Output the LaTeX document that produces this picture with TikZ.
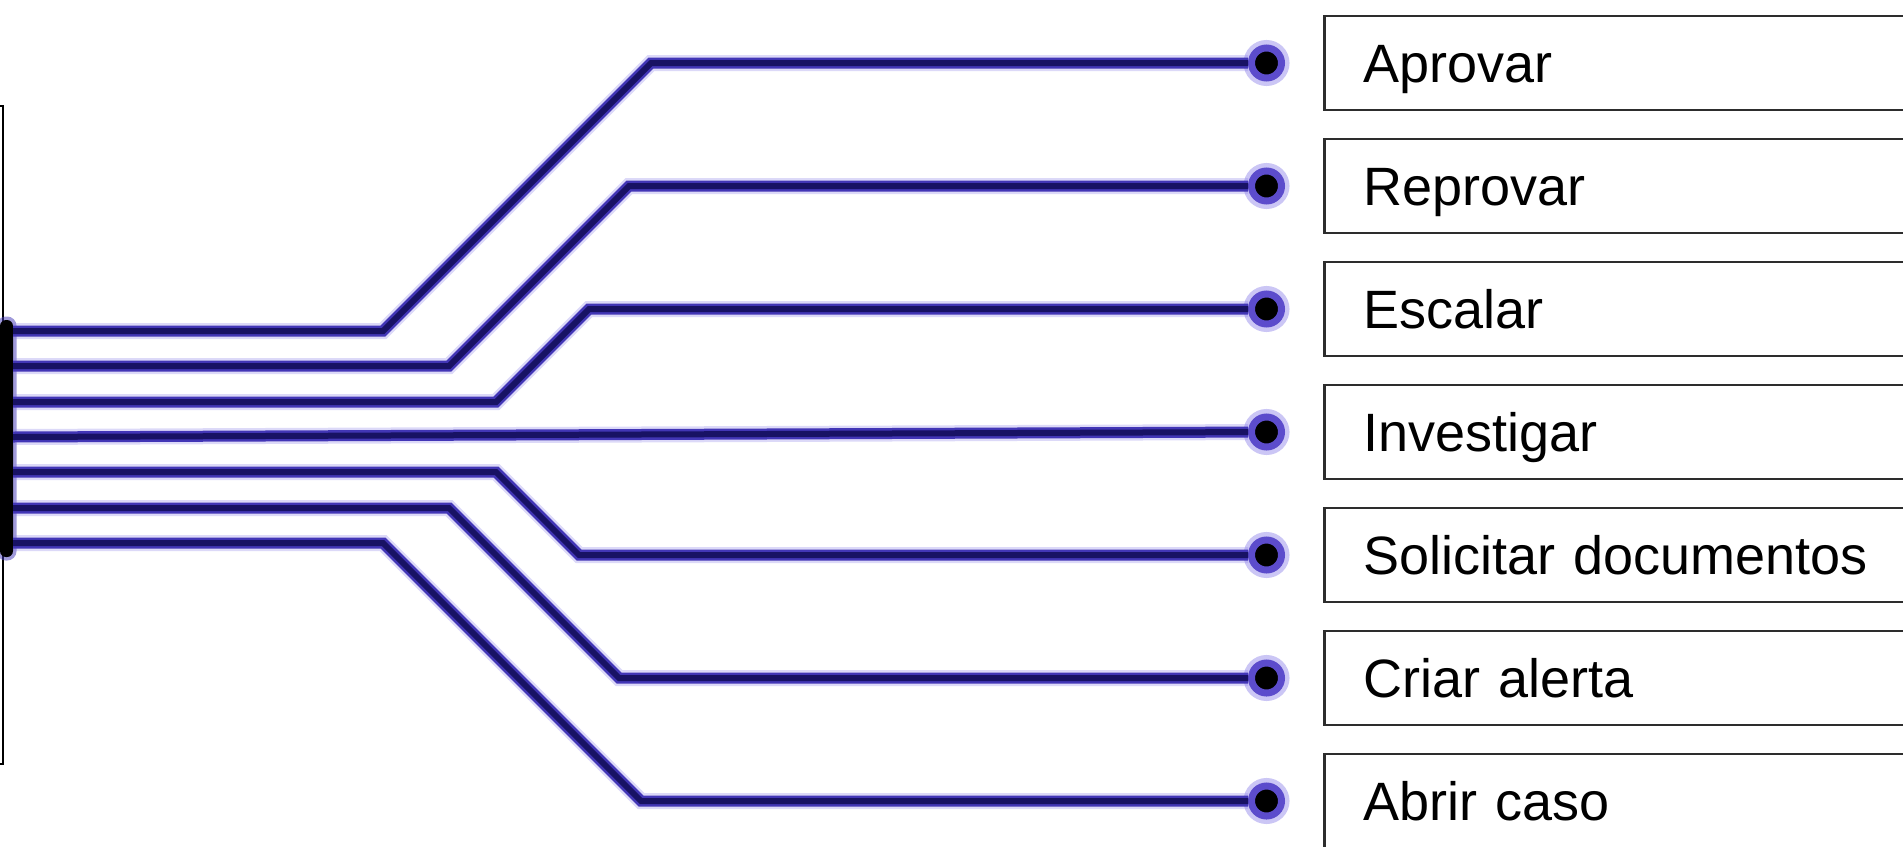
\documentclass[tikz,border=0pt]{standalone}
\usepackage{fontspec}
\setmainfont{Liberation Sans}
\usepackage{tikz}
\usepackage{xcolor}
\usetikzlibrary{positioning}
\definecolor{tracecore}{RGB}{24,18,100}
\definecolor{traceedge}{RGB}{66,54,182}
\definecolor{traceglow}{RGB}{140,128,232}
\definecolor{padring}{RGB}{92,76,204}
\definecolor{boxline}{RGB}{45,45,45}
\tikzset{
    action-box/.style = {draw=boxline, fill=white, line width=2.8pt, rectangle, anchor=west, minimum height=94pt, text width=600pt, inner xsep=39pt, align=left, text height=39pt, text depth=0pt, font=\fontsize{54}{60}\selectfont},
    pad-dot/.style = {circle, fill=black, draw=padring, line width=7pt, minimum size=30pt, inner sep=0pt, preaction={draw=traceglow, line width=16pt, opacity=0.45}},
    trace-line/.style = {draw=traceedge, line width=11pt, preaction={draw=traceglow, line width=16pt, opacity=0.3}, postaction={draw=tracecore, line width=6pt}},
    bus-bar/.style = {rectangle, fill=black, rounded corners=6pt, minimum width=13pt, minimum height=237pt, inner sep=0pt, preaction={draw=traceedge, line width=7pt, opacity=0.5}},
}
\begin{document}
\begin{tikzpicture}[x=1pt, y=-1pt]
\useasboundingbox (0,0) rectangle (1903,846);
\clip (0,0) rectangle (1903,846);

\node[draw=black, line width=2pt, minimum width=40pt, minimum height=658pt, anchor=north east] (source) at (4,105) {};
\node[bus-bar] (bus) at (6.5,438.5) {};

\node[action-box] (aprovar) at (1323,63) {Aprovar};
\node[action-box, below=26.2pt of aprovar] (reprovar) {Reprovar};
\node[action-box, below=26.2pt of reprovar] (escalar) {Escalar};
\node[action-box, below=26.2pt of escalar] (investigar) {Investigar};
\node[action-box, below=26.2pt of investigar] (solicitar) {Solicitar documentos};
\node[action-box, below=26.2pt of solicitar] (criar) {Criar alerta};
\node[action-box, below=26.2pt of criar] (abrir) {Abrir caso};

\node[pad-dot, left=38pt of aprovar] (dot-aprovar) {};
\node[pad-dot, left=38pt of reprovar] (dot-reprovar) {};
\node[pad-dot, left=38pt of escalar] (dot-escalar) {};
\node[pad-dot, left=38pt of investigar] (dot-investigar) {};
\node[pad-dot, left=38pt of solicitar] (dot-solicitar) {};
\node[pad-dot, left=38pt of criar] (dot-criar) {};
\node[pad-dot, left=38pt of abrir] (dot-abrir) {};

\draw[trace-line] (bus.east |- 0,331) -- (383,331) -- (651,63) -- (dot-aprovar);
\draw[trace-line] (bus.east |- 0,366) -- (449,366) -- (629,186) -- (dot-reprovar);
\draw[trace-line] (bus.east |- 0,402) -- (496,402) -- (589,309) -- (dot-escalar);
\draw[trace-line] (bus.east |- 0,437) -- (dot-investigar);
\draw[trace-line] (bus.east |- 0,472) -- (496,472) -- (579,555) -- (dot-solicitar);
\draw[trace-line] (bus.east |- 0,508) -- (449,508) -- (619,678) -- (dot-criar);
\draw[trace-line] (bus.east |- 0,543) -- (383,543) -- (641,801) -- (dot-abrir);
\end{tikzpicture}
\end{document}
